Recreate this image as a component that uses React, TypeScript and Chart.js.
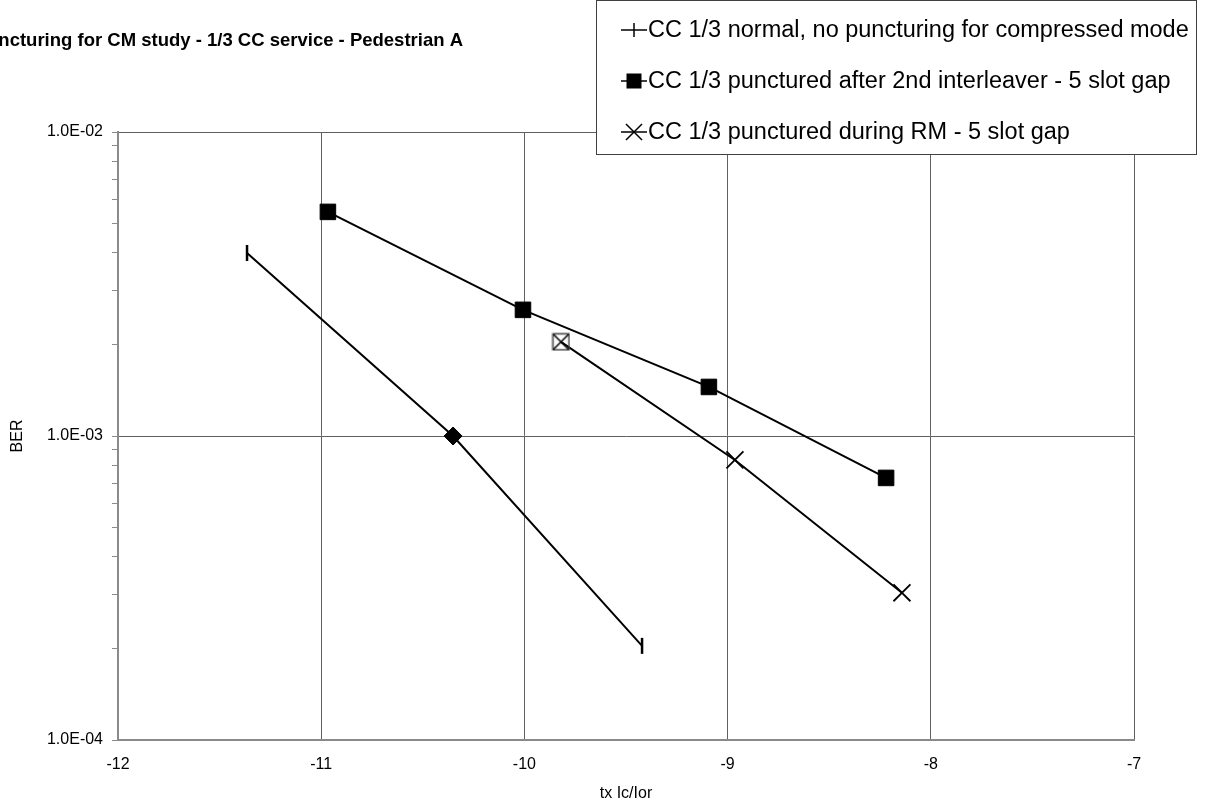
import React, { useEffect, useRef } from 'react';
import { Chart, registerables } from 'chart.js';

Chart.register(...registerables);

const TITLE = 'Puncturing for CM study - 1/3 CC service - Pedestrian A';
const X_TITLE = 'tx Ic/Ior';
const Y_TITLE = 'BER';
const SERIES_NAMES = [
  'CC 1/3 normal, no puncturing for compressed mode',
  'CC 1/3 punctured after 2nd interleaver - 5 slot gap',
  'CC 1/3 punctured during RM - 5 slot gap',
];
const X_TICKS = [-12, -11, -10, -9, -8, -7];
const Y_MAJOR = [1e-4, 1e-3, 1e-2];
const Y_TICK_LABELS = ['1.0E-04', '1.0E-03', '1.0E-02'];

const normalX = [-11.365, -10.351, -9.421];
const normalY = [4.0e-3, 1.0e-3, 2.04e-4];
const afterIlX = [-10.967, -10.007, -9.092, -8.22];
const afterIlY = [5.46e-3, 2.6e-3, 1.45e-3, 7.28e-4];
const rmX = [-9.82, -8.964, -8.142];
const rmY = [2.04e-3, 8.34e-4, 3.05e-4];

const FONT = '"Liberation Sans", Arial, sans-serif';

function pts(xs: number[], ys: number[]) {
  return xs.map((x, i) => ({ x, y: ys[i] }));
}

function isMajor(v: number) {
  const l = Math.log10(v);
  return Math.abs(l - Math.round(l)) < 1e-6;
}

function makeBoxX(): HTMLCanvasElement {
  const c = document.createElement('canvas');
  c.width = 19;
  c.height = 19;
  const g = c.getContext('2d')!;
  g.strokeStyle = '#444';
  g.lineWidth = 1.5;
  g.strokeRect(1.5, 1.5, 16, 16);
  g.strokeStyle = '#000';
  g.lineWidth = 1.5;
  g.beginPath();
  g.moveTo(2, 2);
  g.lineTo(17, 17);
  g.moveTo(17, 2);
  g.lineTo(2, 17);
  g.stroke();
  return c;
}

const overlayPlugin = {
  id: 'overlay',
  afterDraw(chart: any) {
    const ctx = chart.ctx as CanvasRenderingContext2D;
    const area = chart.chartArea;
    ctx.save();
    // title (clipped at left like the reference)
    ctx.fillStyle = '#000';
    ctx.font = `bold 18.5px ${FONT}`;
    ctx.textAlign = 'right';
    ctx.textBaseline = 'middle';
    ctx.fillText(TITLE, 463, 41);
    // axis titles
    ctx.font = `16px ${FONT}`;
    ctx.textAlign = 'center';
    ctx.fillText(X_TITLE, (area.left + area.right) / 2, 794);
    ctx.save();
    ctx.translate(18, (area.top + area.bottom) / 2);
    ctx.rotate(-Math.PI / 2);
    ctx.fillText(Y_TITLE, 0, 0);
    ctx.restore();

    // legend
    const bx = 596, by = 0, bw = 600, bh = 154;
    ctx.fillStyle = '#fff';
    ctx.fillRect(bx, by, bw, bh);
    ctx.strokeStyle = '#404040';
    ctx.lineWidth = 1;
    ctx.strokeRect(bx + 0.5, by + 0.5, bw, bh);
    const rows = [30, 81, 132];
    ctx.font = `23.5px ${FONT}`;
    ctx.textAlign = 'left';
    rows.forEach((ry, i) => {
      const x0 = 621, x1 = 647, cx = 634;
      ctx.strokeStyle = '#000';
      ctx.lineWidth = 1.5;
      ctx.beginPath();
      ctx.moveTo(x0, ry);
      ctx.lineTo(x1, ry);
      ctx.stroke();
      if (i === 0) {
        ctx.beginPath();
        ctx.moveTo(cx, ry - 7);
        ctx.lineTo(cx, ry + 7);
        ctx.stroke();
      } else if (i === 1) {
        ctx.fillStyle = '#000';
        ctx.fillRect(cx - 7.5, ry - 7.5, 15, 15);
      } else {
        ctx.beginPath();
        ctx.moveTo(cx - 8, ry - 8);
        ctx.lineTo(cx + 8, ry + 8);
        ctx.moveTo(cx + 8, ry - 8);
        ctx.lineTo(cx - 8, ry + 8);
        ctx.stroke();
      }
      ctx.fillStyle = '#000';
      ctx.fillText(SERIES_NAMES[i], 648, ry + 1);
    });
    ctx.restore();
  },
};

export default function App() {
  const ref = useRef<HTMLCanvasElement | null>(null);

  useEffect(() => {
    if (!ref.current) return;
    const boxX = makeBoxX();
    const chart = new Chart(ref.current, {
      type: 'line',
      data: {
        datasets: [
          {
            label: SERIES_NAMES[0],
            data: pts(normalX, normalY),
            borderColor: '#000',
            backgroundColor: '#000',
            borderWidth: 2,
            pointStyle: ['line', 'rectRot', 'line'] as any,
            rotation: [90, 0, 90] as any,
            pointRadius: [8, 9, 8] as any,
            pointBorderWidth: [2.5, 1, 2.5] as any,
            pointBorderColor: '#000',
            pointBackgroundColor: '#000',
          },
          {
            label: SERIES_NAMES[1],
            data: pts(afterIlX, afterIlY),
            borderColor: '#000',
            backgroundColor: '#000',
            borderWidth: 2,
            pointStyle: 'rect',
            pointRadius: 11,
            pointBorderWidth: 1,
            pointBorderColor: '#000',
            pointBackgroundColor: '#000',
          },
          {
            label: SERIES_NAMES[2],
            data: pts(rmX, rmY),
            borderColor: '#000',
            backgroundColor: '#000',
            borderWidth: 2,
            pointStyle: [boxX, 'crossRot', 'crossRot'] as any,
            pointRadius: 12,
            pointBorderWidth: 1.8,
            pointBorderColor: '#000',
            pointBackgroundColor: '#000',
          },
        ],
      },
      options: {
        responsive: false,
        animation: false,
        devicePixelRatio: 1,
        layout: { padding: { left: 0, right: 72, top: 132, bottom: 0 } },
        plugins: {
          legend: { display: false },
          title: { display: false },
          tooltip: { enabled: false },
        },
        elements: { line: { tension: 0 } },
        scales: {
          x: {
            type: 'linear',
            min: -12,
            max: -7,
            afterBuildTicks: (s: any) => {
              s.ticks = X_TICKS.map((v) => ({ value: v }));
            },
            afterFit: (s: any) => {
              s.height = 69;
            },
            ticks: {
              color: '#000',
              font: { family: FONT, size: 16 },
              padding: 15,
              maxRotation: 0,
              autoSkip: false,
            },
            grid: { color: '#606060', lineWidth: 1, drawTicks: false },
            border: { color: '#8a8a8a', width: 2 },
          },
          y: {
            type: 'logarithmic',
            min: 1e-4,
            max: 1e-2,
            afterBuildTicks: (s: any) => {
              const t: { value: number }[] = [];
              for (const d of [-4, -3]) {
                for (let m = 1; m <= 9; m++) t.push({ value: m * Math.pow(10, d) });
              }
              t.push({ value: 1e-2 });
              s.ticks = t;
            },
            afterFit: (s: any) => {
              s.width = 118;
            },
            ticks: {
              color: '#000',
              font: { family: FONT, size: 16 },
              padding: 9,
              autoSkip: false,
              callback: (v: any) => {
                const idx = Y_MAJOR.findIndex((m) => Math.abs(m - v) / m < 1e-6);
                return idx >= 0 ? Y_TICK_LABELS[idx] : '';
              },
            },
            grid: {
              color: (c: any) => (c.tick && isMajor(c.tick.value) ? '#606060' : 'rgba(0,0,0,0)'),
              tickColor: '#8a8a8a',
              tickLength: 6,
              lineWidth: 1,
            },
            border: { color: '#8a8a8a', width: 2 },
          },
        },
      },
      plugins: [overlayPlugin],
    });
    return () => chart.destroy();
  }, []);

  return (
    <div style={{ position: 'absolute', left: 0, top: 0, width: 1206, height: 809, background: '#fff' }}>
      <canvas ref={ref} width={1206} height={809} style={{ display: 'block', width: 1206, height: 809 }} />
    </div>
  );
}
